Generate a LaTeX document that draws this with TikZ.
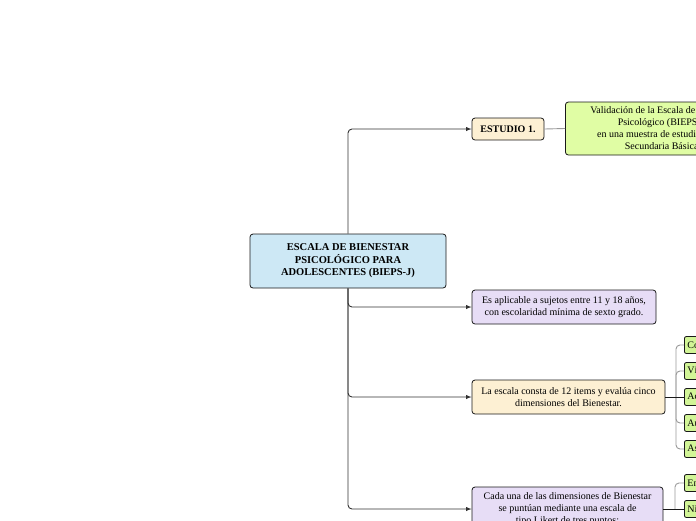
\documentclass[tikz,border=0pt]{standalone}
\usepackage{fontspec}
\setmainfont{Liberation Serif}
\usepackage{xcolor}
\usetikzlibrary{shapes,calc,arrows,positioning}
\definecolor{mainblue}{HTML}{CDE8F5}
\definecolor{cream}{HTML}{FDF0D3}
\definecolor{lavender}{HTML}{E7DDF6}
\definecolor{lightgreen}{HTML}{E0FDA4}
\definecolor{leafgreen}{HTML}{D2F597}
\tikzset{
  topic/.style={draw=black!90, line width=0.8pt, rounded corners=3pt, align=center, inner sep=2pt, font=\fontsize{10}{12}\selectfont},
  mainbox/.style={topic, fill=mainblue, minimum width=196pt, minimum height=54pt, font=\fontsize{10.5}{12.5}\selectfont\bfseries},
  leaf/.style={draw=black!90, line width=0.8pt, rounded corners=2pt, fill=leafgreen, anchor=west, minimum height=17pt, inner sep=3pt, font=\fontsize{10}{12}\selectfont},
  branch/.style={draw=black!80, line width=0.9pt, rounded corners=4pt, -latex},
  twig/.style={draw=black!40, line width=0.9pt, rounded corners=4pt},
  stem/.style={draw=black!90, line width=0.9pt}
}
\begin{document}
\begin{tikzpicture}[x=1pt,y=-1pt]
    \useasboundingbox (0,0) rectangle (696,520);
    \clip (0,0) rectangle (696,520);
    \node (M) [mainbox] at (348,261) {ESCALA DE BIENESTAR\\PSICOLÓGICO PARA\\ADOLESCENTES (BIEPS-J)};
    \node (E) [topic,fill=cream,minimum width=72pt,minimum height=22pt,font=\fontsize{10}{12}\selectfont\bfseries] at (508,129) {ESTUDIO 1.};
    \node (V) [topic,fill=lightgreen,minimum width=195pt,minimum height=53pt,anchor=west] at (565,128.5)
    {Validación de la Escala de Bienestar\\Psicológico (BIEPS-J)\\en una muestra de estudiantes de\\Secundaria Básica.};
    \node (S) [topic,fill=lavender,minimum width=184pt,minimum height=34pt] at (564,307)
    {Es aplicable a sujetos entre 11 y 18 años,\\con escolaridad mínima de sexto grado.};
    \node (D) [topic,fill=cream,minimum width=193pt,minimum height=34pt] at (568.5,397)
    {La escala consta de 12 items y evalúa cinco\\dimensiones del Bienestar.};
    \node (P) [topic,fill=lavender,minimum width=191pt,minimum height=44pt] at (567.5,509)
    {Cada una de las dimensiones de Bienestar\\se puntúan mediante una escala de\\tipo Likert de tres puntos:};
    % dimensiones
    \node (D1) [leaf] at (684,345) {Control de situaciones};
    \node (D2) [leaf] at (684,371) {Vínculos psicosociales};
    \node (D3) [leaf] at (684,397) {Aceptación de sí mismo};
    \node (D4) [leaf] at (684,423) {Autonomía};
    \node (D5) [leaf] at (684,449) {Aspiraciones y proyectos};
    % puntos de la escala
    \node (R1) [leaf] at (684,483) {En desacuerdo};
    \node (R2) [leaf] at (684,509) {Ni de acuerdo ni en desacuerdo};
    \coordinate (J1) at (676,397);
    \coordinate (J2) at (675,509);
    \path [branch] (M.north) |- (E.west);
    \path [branch] (M.south) |- (S.west);
    \path [branch] (M.south) |- (D.west);
    \path [branch] (M.south) |- (P.west);
    \path [twig] (E.east) -- (V.west);
    \foreach \n in {D1,D2,D4,D5}
      \path [twig] (J1) |- (\n.west);
    \path [stem] (D.east) -- (D3.west);
    \path [twig] (J2) |- (R1.west);
    \path [stem] (P.east) -- (R2.west);
\end{tikzpicture}
\end{document}
